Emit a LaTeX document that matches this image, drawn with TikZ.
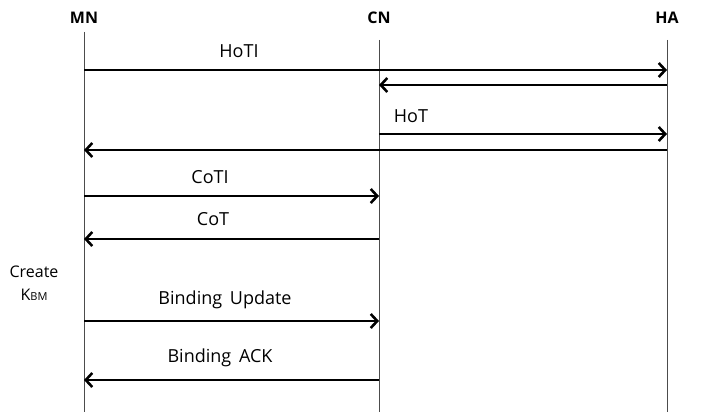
\documentclass[tikz,border=0pt]{standalone}
\usepackage{fontspec}
\setmainfont{Open Sans}
\usetikzlibrary{arrows.meta}

\tikzset{
  entity/.style={font=\fontsize{16}{19}\selectfont\bfseries},
  lifeline/.style={draw=black!70, line width=0.9pt},
  msg/.style={line width=2.6pt, -{Straight Barb[length=6.5pt,width=14pt,line width=2.6pt]}},
  msglabel/.style={font=\fontsize{18}{21}\selectfont}
}

\begin{document}
\begin{tikzpicture}[x=1pt,y=-1pt]
  \useasboundingbox (0,0) rectangle (704,412);

  % entities
  \node[entity] (mn) at (84,18) {MN};
  \node[entity] (cn) at (379,18) {CN};
  \node[entity] (ha) at (667,18) {HA};

  % lifelines
  \coordinate (mnbot) at (84,412);
  \coordinate (cnbot) at (379,412);
  \coordinate (habot) at (667,412);
  \draw[lifeline] (mn.south |- 0,32) -- (mnbot);
  \draw[lifeline] (cn.south |- 0,40) -- (cnbot);
  \draw[lifeline] (ha.south |- 0,40) -- (habot);

  % home test
  \draw[msg] (mn |- 0,70) -- (ha |- 0,70);
  \node[msglabel] (hoti) at (239,51) {HoTI};
  \draw[msg] (ha |- 0,85) -- (cn |- 0,85);
  \draw[msg] (cn |- 0,134) -- (ha |- 0,134);
  \node[msglabel] (hot) at (411,116) {HoT};
  \draw[msg] (ha |- 0,150) -- (mn |- 0,150);

  % care-of test
  \draw[msg] (mn |- 0,196) -- (cn |- 0,196);
  \node[msglabel] (coti) at (210,177) {CoTI};
  \draw[msg] (cn |- 0,239) -- (mn |- 0,239);
  \node[msglabel] (cot) at (213,219) {CoT};

  % key
  \node[msglabel, font=\fontsize{16}{19}\selectfont] (create) at (34,272) {Create};
  \node[msglabel, font=\fontsize{16}{19}\selectfont] (kbm) at (34,295) {K{\fontsize{11}{13}\selectfont BM}};

  % binding
  \draw[msg] (mn |- 0,321) -- (cn |- 0,321);
  \node[msglabel] (bu) at (225,300) {Binding\, Update};
  \draw[msg] (cn |- 0,380) -- (mn |- 0,380);
  \node[msglabel] (back) at (220,358) {Binding\, ACK};
\end{tikzpicture}
\end{document}
